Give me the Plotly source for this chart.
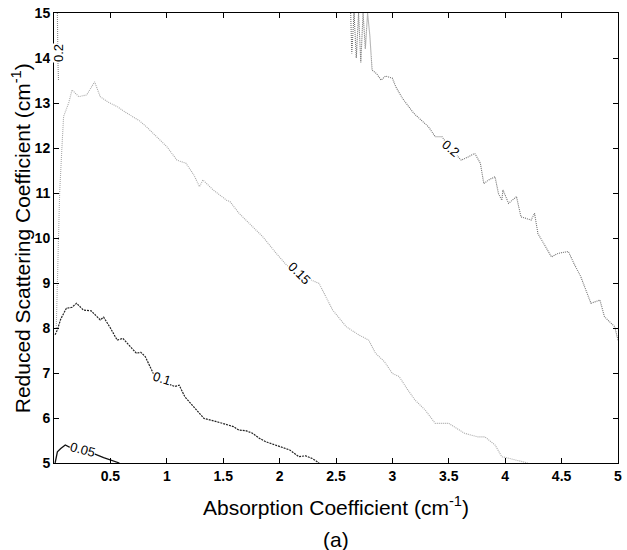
import plotly.graph_objects as go

# contour level 0.05
c005_x = [0.01, 0.03, 0.06, 0.1, 0.14, 0.2, 0.26, 0.33, 0.38, 0.44, 0.5, 0.55, 0.58]
c005_y = [5.0, 5.25, 5.32, 5.4, 5.35, 5.36, 5.3, 5.24, 5.18, 5.12, 5.07, 5.03, 5.0]

# contour level 0.1
c010_x = [0.01, 0.03, 0.06, 0.11, 0.16, 0.2, 0.26, 0.33, 0.41, 0.44, 0.5, 0.56, 0.61, 0.67,
          0.73, 0.77, 0.81, 0.88, 0.95, 1.02, 1.07, 1.11, 1.16, 1.22, 1.29, 1.33, 1.44, 1.52,
          1.59, 1.64, 1.7, 1.76, 1.82, 1.88, 1.94, 2.0, 2.09, 2.17, 2.23, 2.29, 2.35]
c010_y = [7.85, 7.96, 8.2, 8.44, 8.46, 8.55, 8.4, 8.38, 8.18, 8.24, 8.0, 7.73, 7.77, 7.6,
          7.44, 7.46, 7.36, 6.99, 6.86, 6.75, 6.7, 6.73, 6.47, 6.3, 6.1, 5.99, 5.92, 5.86,
          5.81, 5.73, 5.72, 5.66, 5.55, 5.47, 5.42, 5.36, 5.29, 5.14, 5.16, 5.1, 5.0]

# contour level 0.15
c015_x = [0.02, 0.03, 0.04, 0.05, 0.07, 0.085, 0.13, 0.16, 0.22, 0.29, 0.36, 0.41, 0.48,
          0.56, 0.63, 0.7, 0.76, 0.82, 0.91, 1.0, 1.09, 1.17, 1.24, 1.29, 1.32, 1.41, 1.53,
          1.56, 1.64, 1.73, 1.85, 1.97, 2.06, 2.16, 2.25, 2.35, 2.47, 2.59, 2.7, 2.79, 2.85,
          2.93, 3.0, 3.06, 3.13, 3.2, 3.29, 3.38, 3.5, 3.58, 3.64, 3.76, 3.82, 3.91, 3.97,
          4.04, 4.09, 4.2]
c015_y = [8.0, 9.2, 10.3, 11.0, 12.0, 12.7, 13.0, 13.29, 13.14, 13.18, 13.47, 13.14, 13.02,
          12.92, 12.8, 12.7, 12.6, 12.47, 12.25, 12.03, 11.73, 11.66, 11.4, 11.14, 11.29,
          11.07, 10.84, 10.81, 10.55, 10.33, 10.03, 9.66, 9.4, 9.2, 9.1, 8.99, 8.4, 8.03,
          7.85, 7.73, 7.44, 7.25, 6.99, 6.92, 6.65, 6.4, 6.18, 5.88, 5.88, 5.75, 5.66, 5.58,
          5.58, 5.4, 5.14, 5.1, 5.07, 5.0]

# contour level 0.2 (left edge piece)
c020a_x = [0.03, 0.03, 0.035, 0.04]
c020a_y = [15.0, 14.4, 13.9, 13.5]

# contour level 0.2 (main piece)
c020_x = [2.63, 2.64, 2.66, 2.68, 2.7, 2.71, 2.72, 2.74, 2.76, 2.78, 2.8, 2.82, 2.86, 2.9,
          2.94, 3.0, 3.03, 3.09, 3.19, 3.22, 3.32, 3.38, 3.44, 3.51, 3.61, 3.67, 3.73, 3.78,
          3.81, 3.86, 3.91, 3.94, 3.97, 3.98, 4.03, 4.1, 4.14, 4.23, 4.26, 4.29, 4.35, 4.41,
          4.47, 4.56, 4.61, 4.67, 4.76, 4.84, 4.88, 4.97, 5.0]
c020_y = [15.0, 14.1, 15.0, 14.0, 15.0, 14.3, 13.9, 15.0, 14.2, 15.0, 14.5, 13.73, 13.65, 13.51,
          13.6, 13.55, 13.36, 13.1, 12.77, 12.7, 12.47, 12.25, 12.25, 12.0, 11.73, 11.8, 11.88,
          11.66, 11.21, 11.3, 11.36, 10.99, 10.84, 11.07, 10.77, 10.92, 10.47, 10.4, 10.55,
          10.1, 9.85, 9.58, 9.66, 9.7, 9.43, 9.14, 8.55, 8.62, 8.25, 8.03, 7.73]

# contour labels
lab_text = ["0.05", "0.1", "0.15", "0.2", "0.2"]
lab_x = [0.25, 0.96, 2.18, 3.52, 0.04]
lab_y = [5.3, 6.88, 9.22, 12.0, 14.1]
lab_ang = [15, 18, 45, 40, -90]

x_ticks = [0.5, 1, 1.5, 2, 2.5, 3, 3.5, 4, 4.5, 5]
y_ticks = [5, 6, 7, 8, 9, 10, 11, 12, 13, 14, 15]

fig = go.Figure()
fig.add_trace(go.Scatter(x=c005_x, y=c005_y, mode="lines",
                         line=dict(color="#111111", width=1.3), showlegend=False))
fig.add_trace(go.Scatter(x=c010_x, y=c010_y, mode="lines",
                         line=dict(color="#222222", width=1.2, dash="2px,1px"), showlegend=False))
fig.add_trace(go.Scatter(x=c015_x, y=c015_y, mode="lines",
                         line=dict(color="#a8a8a8", width=1.1, dash="1px,1px"), showlegend=False))
fig.add_trace(go.Scatter(x=c020a_x, y=c020a_y, mode="lines",
                         line=dict(color="#888888", width=1.1, dash="1px,1px"), showlegend=False))
fig.add_trace(go.Scatter(x=c020_x, y=c020_y, mode="lines",
                         line=dict(color="#707070", width=1.1, dash="1px,1px"), showlegend=False))

for t, x, y, a in zip(lab_text, lab_x, lab_y, lab_ang):
    fig.add_annotation(x=x, y=y, text=t, showarrow=False, textangle=a,
                       font=dict(family="Arial", size=13, color="black"),
                       bgcolor="white", borderpad=0)

axis_common = dict(showline=True, linecolor="black", linewidth=1, mirror="allticks",
                   ticks="inside", ticklen=5, tickcolor="black", showgrid=False,
                   zeroline=False,
                   tickfont=dict(family="Arial", size=14, color="black"))

fig.update_xaxes(range=[0, 5], tickvals=x_ticks,
                 ticktext=[f"<b>{v:g}</b>" for v in x_ticks], **axis_common)
fig.update_yaxes(range=[5, 15], tickvals=y_ticks,
                 ticktext=[f"<b>{v}</b>" for v in y_ticks], **axis_common)

fig.add_annotation(xref="paper", yref="paper", x=0.5, y=-0.095, yanchor="middle",
                   text="Absorption Coefficient (cm<sup>-1</sup>)", showarrow=False,
                   font=dict(family="Arial", size=21, color="black"))
fig.add_annotation(xref="paper", yref="paper", x=0.5, y=-0.17, yanchor="middle",
                   text="(a)", showarrow=False,
                   font=dict(family="Arial", size=21, color="black"))
fig.add_annotation(xref="paper", yref="paper", x=-0.058, y=0.5, xanchor="center",
                   text="Reduced Scattering Coefficient (cm<sup>-1</sup>)", showarrow=False,
                   textangle=-90, font=dict(family="Arial", size=21, color="black"))

fig.update_layout(width=627, height=550, margin=dict(l=54, r=5, t=13, b=87),
                  plot_bgcolor="white", paper_bgcolor="white")

fig.write_html("out.html")
